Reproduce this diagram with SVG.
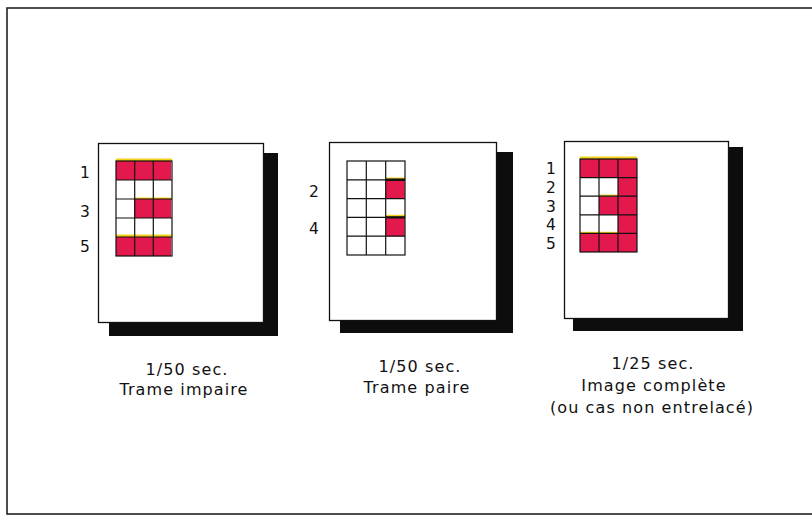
<svg xmlns="http://www.w3.org/2000/svg" width="812" height="517" viewBox="0 0 812 517">
<style>
.frame{fill:none;stroke:#222;stroke-width:1.6}
.box{fill:#fff;stroke:#111;stroke-width:1.3}
.shadow{fill:#0d0d0d}
.red{fill:#e3184c}
.yel{fill:#f2d21a}
.grid{fill:none;stroke:#111;stroke-width:1.2}
.num{font-family:"DejaVu Sans",sans-serif;font-size:15.5px;fill:#111}
.cap{font-family:"DejaVu Sans",sans-serif;font-size:16px;letter-spacing:1.1px;fill:#111;text-anchor:middle}
</style>
<rect width="812" height="517" fill="#fff"/>
<rect class="frame" x="7" y="8" width="812" height="506"/>

<g id="panel-impaire">
<rect class="shadow" x="109" y="153" width="169" height="183"/>
<rect class="box" x="98.5" y="143.5" width="165" height="179"/>
<rect class="yel" x="116" y="158.5" width="56" height="2.5"/>
<rect class="red" x="116" y="161" width="55" height="19"/>
<rect class="yel" x="135" y="197.5" width="37" height="2"/>
<rect class="red" x="134" y="199" width="37" height="19"/>
<rect class="yel" x="116" y="234.5" width="56" height="2.5"/>
<rect class="red" x="116" y="237" width="55" height="19"/>
<g class="grid">
<rect x="116" y="161" width="56" height="95"/>
<path d="M134.7 161V256M153.3 161V256M116 180H172M116 199H172M116 218H172M116 237H172"/>
</g>
<text class="num" x="80" y="178">1</text>
<text class="num" x="80" y="217">3</text>
<text class="num" x="80" y="252">5</text>
<text class="cap" x="187" y="375">1/50 sec.</text>
<text class="cap" x="184" y="395">Trame impaire</text>
</g>

<g id="panel-paire">
<rect class="shadow" x="340" y="152" width="173" height="181"/>
<rect class="box" x="329.5" y="142.5" width="167" height="178"/>
<rect class="yel" x="385.7" y="177.5" width="19.3" height="2.5"/>
<rect class="red" x="385.7" y="179.8" width="19" height="18.8"/>
<rect class="yel" x="385.7" y="214.8" width="19.3" height="2.5"/>
<rect class="red" x="385.7" y="217.4" width="19" height="18.8"/>
<g class="grid">
<rect x="347" y="161" width="58" height="94"/>
<path d="M366.3 161V255M385.7 161V255M347 179.8H405M347 198.6H405M347 217.4H405M347 236.2H405"/>
<path d="M385.7 179.8H405M385.7 217.4H405" stroke-width="2.4"/>
</g>
<text class="num" x="309" y="197">2</text>
<text class="num" x="309" y="234">4</text>
<text class="cap" x="420" y="372">1/50 sec.</text>
<text class="cap" x="417" y="393">Trame paire</text>
</g>

<g id="panel-complete">
<rect class="shadow" x="573" y="147" width="170" height="184"/>
<rect class="box" x="564.5" y="141.5" width="164" height="177"/>
<rect class="yel" x="580" y="156.5" width="57" height="2.5"/>
<path class="red" d="M580 159H637V252H580V233.4H618V214.8H599V196.2H618V177.6H580Z"/>
<rect class="yel" x="599" y="194.6" width="19" height="1.8"/>
<rect class="yel" x="580" y="231.8" width="38" height="1.8"/>
<g class="grid">
<rect x="580" y="159" width="57" height="93"/>
<path d="M599 159V252M618 159V252M580 177.6H637M580 196.2H637M580 214.8H637M580 233.4H637"/>
</g>
<text class="num" x="546" y="174">1</text>
<text class="num" x="546" y="193">2</text>
<text class="num" x="546" y="212">3</text>
<text class="num" x="546" y="230">4</text>
<text class="num" x="546" y="249">5</text>
<text class="cap" x="653" y="369">1/25 sec.</text>
<text class="cap" x="654" y="391">Image complète</text>
<text class="cap" x="652" y="413">(ou cas non entrelacé)</text>
</g>
<g id="connectors"/>
</svg>
